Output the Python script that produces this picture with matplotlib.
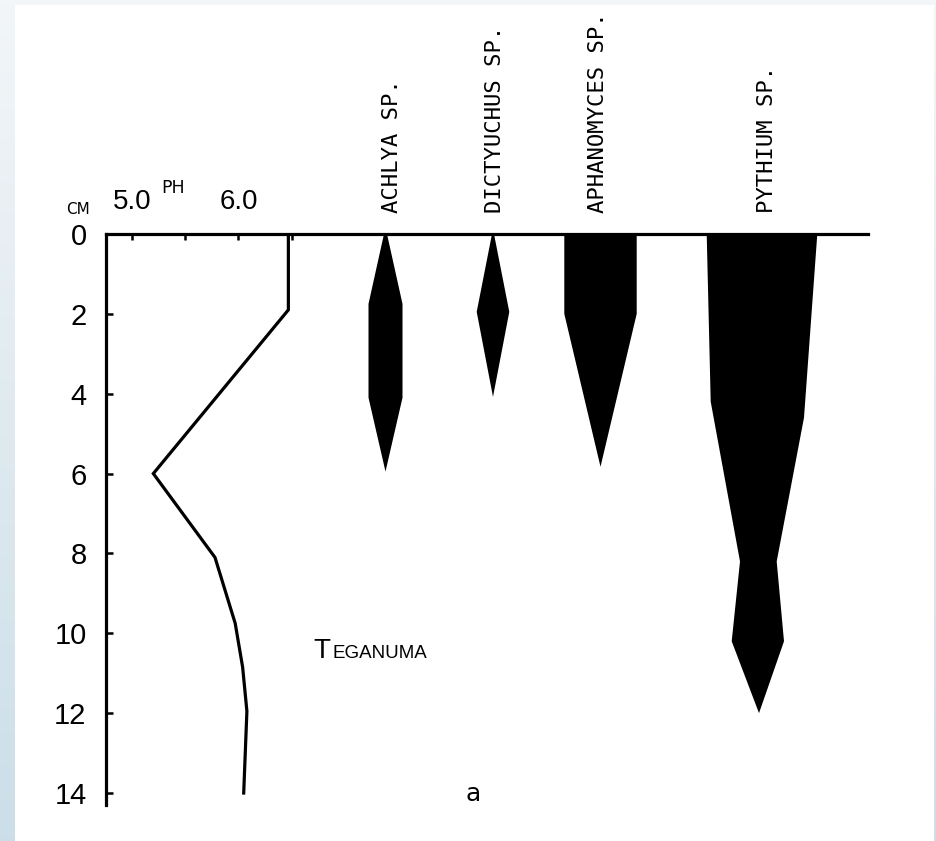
import numpy as np
import matplotlib
matplotlib.use("Agg")
import matplotlib.pyplot as plt

# ---------------- data ----------------
depth_ticks = [0, 2, 4, 6, 8, 10, 12, 14]
ph_ticks = [5.0, 5.5, 6.0, 6.5]
ph_tick_labels = ["5.0", "", "6.0", ""]

ph_depth = [0, 1.9, 6.0, 8.1, 9.75, 10.85, 11.95, 14.0]
ph_value = [6.47, 6.47, 5.20, 5.78, 5.97, 6.04, 6.08, 6.05]

species = ["ACHLYA SP.", "DICTYUCHUS SP.", "APHANOMYCES SP.", "PYTHIUM SP."]

achlya_depth = [0, 1.75, 4.1, 5.95]
achlya_half = [0.15, 1.7, 1.7, 0.0]

dictyuchus_depth = [0, 1.95, 4.08]
dictyuchus_half = [0.1, 1.63, 0.0]

aphanomyces_depth = [0, 2.0, 5.83]
aphanomyces_half = [3.62, 3.62, 0.0]

pythium_left_depth = [0, 4.2, 8.2, 10.2, 12.0]
pythium_left_half = [5.53, 5.13, 2.2, 3.03, 0.3]
pythium_right_depth = [0, 4.6, 8.2, 10.2, 12.0]
pythium_right_half = [5.53, 4.2, 1.47, 2.2, -0.3]

# ---------------- layout ----------------
W, H = 936, 841
def fx(px): return px / W
def fy(py): return 1 - py / H

plt.rcParams['font.family'] = ['Liberation Sans', 'DejaVu Sans']

fig = plt.figure(figsize=(W / 100, H / 100), dpi=100)

# background frame (decoration)
bg = np.ones((H, W, 3))
bg[:, :, :] = np.array([0.955, 0.965, 0.975])
t = np.linspace(0, 1, H)[:, None]
top_c = np.array([0.95, 0.965, 0.975])
bot_c = np.array([0.80, 0.87, 0.91])
bg[:, :15, :] = (top_c * (1 - t) + bot_c * t)[:, None, :].repeat(15, axis=1)
bg[5:, 15:934, :] = 1.0
bg[:, 934:, :] = (top_c * (1 - t) + bot_c * t)[:, None, :].repeat(W - 934, axis=1)
axbg = fig.add_axes([0, 0, 1, 1], zorder=-10)
axbg.imshow(bg, aspect='auto', interpolation='bilinear')
axbg.axis('off')

rect = [fx(106), fy(805), fx(868) - fx(106), fy(234) - fy(805)]
ax = fig.add_axes(rect)
ax.set_facecolor('none')
ax.set_xlim(4.755, 11.921)
ax.set_ylim(14.3, 0)
for s in ['right', 'bottom']:
    ax.spines[s].set_visible(False)
for s in ['left', 'top']:
    ax.spines[s].set_linewidth(2.3)
    ax.spines[s].set_color('black')

ax.xaxis.tick_top()
ax.set_xticks(ph_ticks)
ax.set_xticklabels(ph_tick_labels)
ax.tick_params(axis='x', direction='in', length=4.5, width=1.8, pad=13.5,
               labelsize=20)
ax.set_yticks(depth_ticks)
ax.set_yticklabels([str(d) for d in depth_ticks])
ax.tick_params(axis='y', direction='in', length=5, width=1.8, pad=14,
               labelsize=21)

ax.plot(ph_value, ph_depth, color='black', lw=2.3, solid_joinstyle='miter')

# fungi overlay axes
axf = fig.add_axes(rect)
axf.set_facecolor('none')
axf.set_xlim(10.6, 86.8)
axf.set_ylim(14.3, 0)
axf.axis('off')

centers = [38.55, 49.3, 60.05, 76.2]

def sym_poly(c, d, h):
    d = np.asarray(d); h = np.asarray(h)
    xs = np.concatenate([c - h, (c + h)[::-1]])
    ys = np.concatenate([d, d[::-1]])
    return xs, ys

for c, d, h in [(centers[0], achlya_depth, achlya_half),
                (centers[1], dictyuchus_depth, dictyuchus_half),
                (centers[2], aphanomyces_depth, aphanomyces_half)]:
    xs, ys = sym_poly(c, d, h)
    axf.fill(xs, ys, color='black', lw=0)

c = centers[3]
xs = np.concatenate([c - np.asarray(pythium_left_half),
                     (c + np.asarray(pythium_right_half))[::-1]])
ys = np.concatenate([pythium_left_depth, pythium_right_depth[::-1]])
axf.fill(xs, ys, color='black', lw=0)

# species labels
label_x = [391.7, 495, 598, 766.7]
for name, lx in zip(species, label_x):
    fig.text(fx(lx), fy(213), name, rotation=90, ha='center', va='bottom',
             family='DejaVu Sans Mono', fontsize=16)

fig.text(fx(66), fy(214), "CM", family='DejaVu Sans', fontsize=11,
         ha='left', va='baseline')
fig.text(fx(161), fy(193), "PH", family='DejaVu Sans', fontsize=12.5,
         ha='left', va='baseline')

fig.text(fx(313), fy(658), "T", fontsize=20, ha='left', va='baseline')
fig.text(fx(332), fy(658), "EGANUMA", fontsize=13.5, ha='left', va='baseline')

fig.text(fx(473), fy(801), "a", family='DejaVu Sans', fontsize=18,
         ha='center', va='baseline')

fig.savefig("out.png", dpi=100)
